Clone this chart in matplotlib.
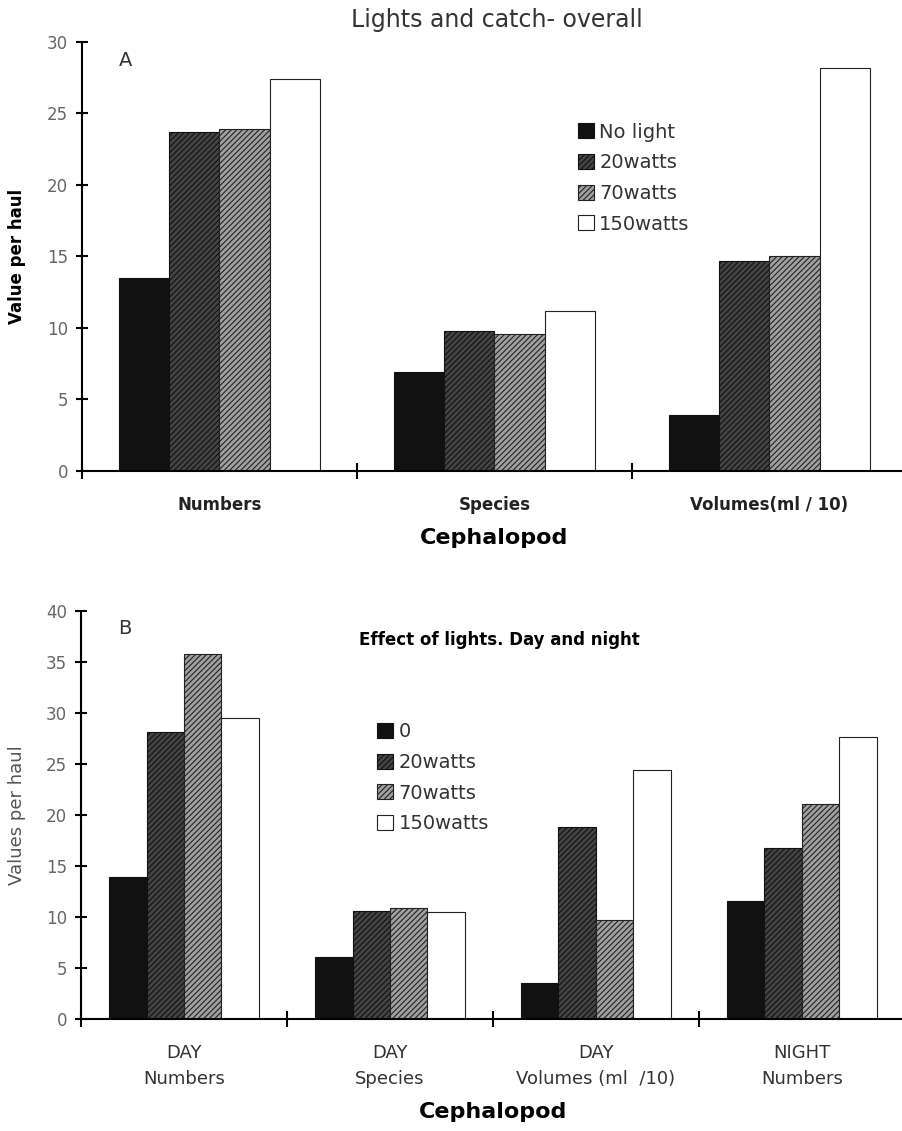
import matplotlib
matplotlib.use("Agg")
import matplotlib.pyplot as plt
import numpy as np
from matplotlib.patches import Patch

plt.rcParams['font.family'] = ['DejaVu Sans']
plt.rcParams['hatch.linewidth'] = 0.8

# panel A
cats_a = ['Numbers', 'Species', 'Volumes(ml / 10)']
nolight_a = [13.5, 6.9, 3.9]
w20_a = [23.7, 9.8, 14.7]
w70_a = [23.9, 9.6, 15.0]
w150_a = [27.4, 11.2, 28.2]
legend_a = ['No light', '20watts', '70watts', '150watts']

# panel B
cats_b = ['DAY\nNumbers', 'DAY\nSpecies', 'DAY\nVolumes (ml  /10)', 'NIGHT\nNumbers']
w0_b = [13.9, 6.1, 3.5, 11.6]
w20_b = [28.1, 10.6, 18.8, 16.8]
w70_b = [35.8, 10.9, 9.7, 21.1]
w150_b = [29.5, 10.5, 24.4, 27.6]
legend_b = ['0', '20watts', '70watts', '150watts']

styles = [dict(facecolor='#111111', edgecolor='#111111', hatch=None),
          dict(facecolor='#444444', edgecolor='#111111', hatch='//////'),
          dict(facecolor='#a0a0a0', edgecolor='#222222', hatch='//////'),
          dict(facecolor='white', edgecolor='#222222', hatch=None)]

fig = plt.figure(figsize=(9.03, 11.31), dpi=100)


def panel(ax, cats, series, bw, ymax, letter):
    n = len(cats)
    x = np.arange(n) + 0.5
    for i, (vals, st) in enumerate(zip(series, styles)):
        ax.bar(x + (i - 1.5) * bw, vals, width=bw, linewidth=0.8, **st)
    ax.set_xlim(0, n)
    ax.set_ylim(0, ymax)
    for s in ['top', 'right']:
        ax.spines[s].set_visible(False)
    ax.spines['left'].set_linewidth(1.5)
    ax.spines['bottom'].set_linewidth(1.5)
    ax.set_xticks(np.arange(n + 1))
    ax.set_xticklabels([])
    ax.tick_params(axis='x', which='major', direction='inout', length=12, width=1.5)
    ax.tick_params(axis='x', which='minor', length=0, pad=18)
    ax.set_yticks(np.arange(0, ymax + 1, 5))
    ax.tick_params(axis='y', direction='inout', length=8, width=1.5, labelsize=12,
                   labelcolor='#666666', pad=6)
    ax.text(0.045, 0.98, letter, transform=ax.transAxes, fontsize=14,
            color='#333333', va='top', ha='left')
    handles = [Patch(linewidth=0.8, **st) for st in styles]
    return handles


# top panel
ax1 = fig.add_axes([0.0908, 0.5836, 0.9136, 0.3793])
h = panel(ax1, cats_a, [nolight_a, w20_a, w70_a, w150_a], 0.182, 30, 'A')
ax1.set_xticks(np.arange(3) + 0.5, cats_a, minor=True, fontsize=12, fontweight='bold',
               color='#222222')
ax1.set_xlabel('Cephalopod', fontsize=16, fontweight='bold', labelpad=10)
ax1.set_ylabel('Value per haul', fontsize=12, fontweight='bold')
ax1.yaxis.set_label_coords(-0.068, 0.5)
ax1.legend(h, legend_a, loc='upper left', bbox_to_anchor=(0.58, 0.853), frameon=False,
           fontsize=14, handlelength=0.8, handleheight=0.8, handletextpad=0.3,
           labelspacing=0.6, labelcolor='#333333')
fig.text(0.55, 0.993, 'Lights and catch- overall', ha='center', va='top', fontsize=17,
         color='#333333')

# bottom panel
ax2 = fig.add_axes([0.0897, 0.099, 0.9125, 0.3608])
h = panel(ax2, cats_b, [w0_b, w20_b, w70_b, w150_b], 0.182, 40, 'B')
ax2.set_xticks(np.arange(4) + 0.5, cats_b, minor=True, fontsize=13, color='#333333',
               linespacing=1.6)
ax2.set_xlabel('Cephalopod', fontsize=16, fontweight='bold', labelpad=10)
ax2.set_ylabel('Values per haul', fontsize=13, color='#555555')
ax2.yaxis.set_label_coords(-0.067, 0.5)
ax2.text(0.337, 0.93, 'Effect of lights. Day and night', transform=ax2.transAxes,
         fontsize=12, fontweight='bold', va='center', ha='left')
ax2.legend(h, legend_b, loc='upper left', bbox_to_anchor=(0.338, 0.77), frameon=False,
           fontsize=14, handlelength=0.8, handleheight=0.8, handletextpad=0.3,
           labelspacing=0.6, labelcolor='#333333')

fig.savefig('out.png', dpi=100)
